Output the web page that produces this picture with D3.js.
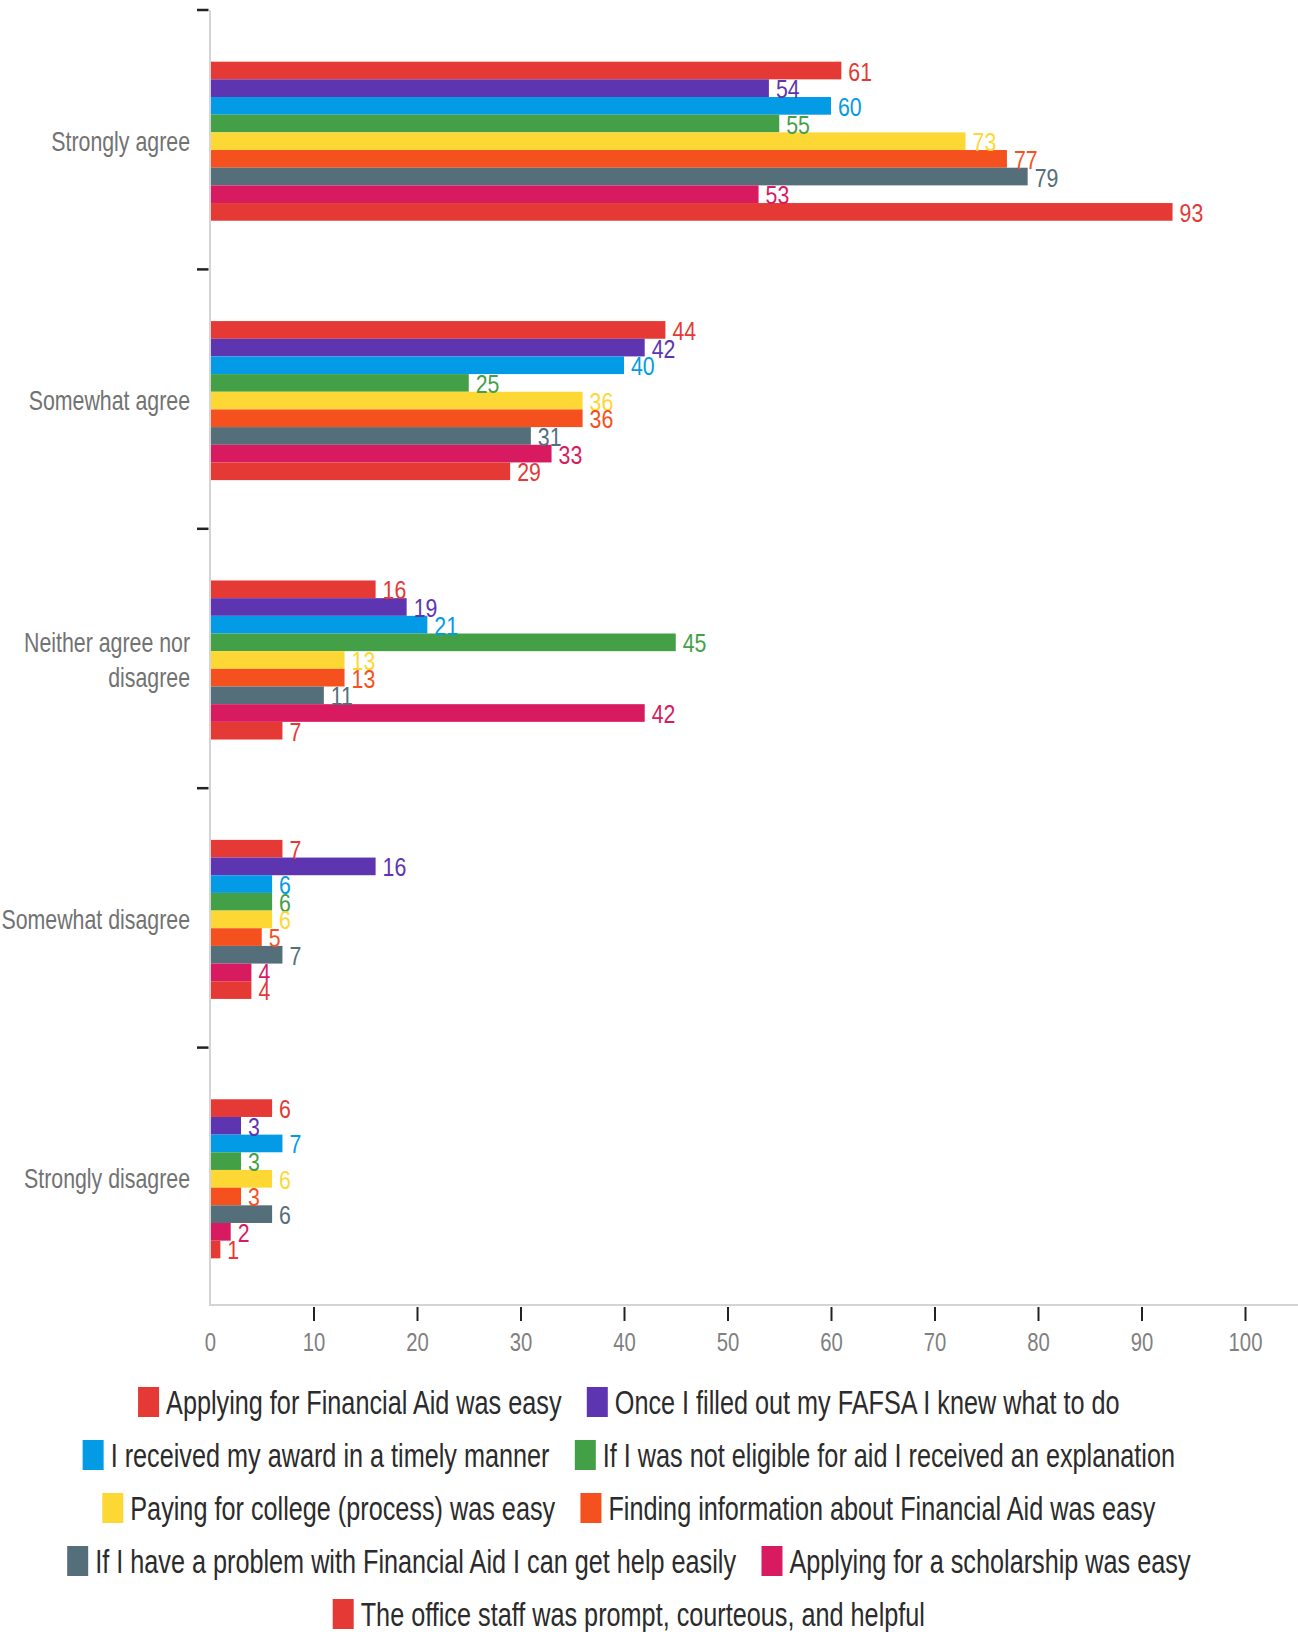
<!DOCTYPE html>
<html><head><meta charset="utf-8">
<script src="https://cdn.jsdelivr.net/npm/d3@7"></script>
<style>html,body{margin:0;padding:0;background:#fff;} svg{display:block;}</style>
</head><body>
<svg id="chart" width="1298" height="1632"></svg>
<script>
// ---------- DATA ----------
const categories = ["Strongly agree", "Somewhat agree", "Neither agree nor disagree", "Somewhat disagree", "Strongly disagree"];
const seriesNames = [
  "Applying for Financial Aid was easy",
  "Once I filled out my FAFSA I knew what to do",
  "I received my award in a timely manner",
  "If I was not eligible for aid I received an explanation",
  "Paying for college (process) was easy",
  "Finding information about Financial Aid was easy",
  "If I have a problem with Financial Aid I can get help easily",
  "Applying for a scholarship was easy",
  "The office staff was prompt, courteous, and helpful"
];
const seriesColors = ["#e53935", "#5e35b1", "#039be5", "#43a047", "#fdd835", "#f4511e", "#546e7a", "#d81b60", "#e53935"];
const applyingFinancialAid   = [61, 44, 16, 7, 6];
const onceFilledFafsa        = [54, 42, 19, 16, 3];
const receivedAwardTimely    = [60, 40, 21, 6, 7];
const notEligibleExplanation = [55, 25, 45, 6, 3];
const payingForCollege       = [73, 36, 13, 6, 6];
const findingInformation     = [77, 36, 13, 5, 3];
const problemGetHelp         = [79, 31, 11, 7, 6];
const applyingScholarship    = [53, 33, 42, 4, 2];
const officeStaff            = [93, 29, 7, 4, 1];
const xTickValues = [0, 10, 20, 30, 40, 50, 60, 70, 80, 90, 100];

const seriesValues = [applyingFinancialAid, onceFilledFafsa, receivedAwardTimely, notEligibleExplanation,
  payingForCollege, findingInformation, problemGetHelp, applyingScholarship, officeStaff];

// ---------- LAYOUT ----------
const FONT = "'Liberation Sans', Arial, sans-serif";
const W = 1298;
const svg = d3.select("#chart");

const x = d3.scaleLinear().domain([0, 100]).range([210, 1245]);
const y = d3.scaleBand().domain(categories).range([10, 1307]).paddingInner(0).paddingOuter(0);
const inner = d3.scaleBand().domain(d3.range(seriesNames.length))
  .range([1.5, y.bandwidth() + 1.5]).paddingInner(0).paddingOuter(2.84);
const axisY = 1305;

// bars
const barG = svg.append("g");
seriesValues.forEach((vals, si) => {
  barG.append("g").selectAll("rect").data(vals).join("rect")
    .attr("x", x(0))
    .attr("y", (v, ci) => y(categories[ci]) + inner(si))
    .attr("width", v => x(v) - x(0))
    .attr("height", inner.bandwidth())
    .attr("fill", seriesColors[si]);
});

// value labels
const labG = svg.append("g").style("font-family", FONT).attr("font-size", 26);
seriesValues.forEach((vals, si) => {
  labG.append("g").selectAll("text").data(vals).join("text")
    .attr("transform", (v, ci) => `translate(${x(v) + 7},${y(categories[ci]) + inner(si) + inner.bandwidth() / 2 + 10}) scale(0.82,1)`)
    .attr("fill", seriesColors[si])
    .text(v => v);
});

// y axis line
svg.append("line").attr("x1", x(0)).attr("x2", x(0)).attr("y1", y.range()[0]).attr("y2", axisY)
  .attr("stroke", "#d4d4d4").attr("stroke-width", 2);
// y ticks at band boundaries
svg.append("g").selectAll("line").data(categories).join("line")
  .attr("x1", x(0) - 13).attr("x2", x(0) - 1.5)
  .attr("y1", d => y(d)).attr("y2", d => y(d))
  .attr("stroke", "#222").attr("stroke-width", 2.5);

// category labels (wrapped)
const catG = svg.append("g").style("font-family", FONT).attr("font-size", 27).attr("fill", "#727272");
const catSX = 0.79, catMax = 200, catLine = 36;
categories.forEach(c => {
  const words = c.split(" ");
  const t = catG.append("text").attr("text-anchor", "end");
  const lines = []; let cur = [];
  words.forEach(w => {
    const test = cur.concat([w]).join(" ");
    t.text(test);
    if (cur.length && t.node().getComputedTextLength() * catSX > catMax) { lines.push(cur.join(" ")); cur = [w]; }
    else cur.push(w);
  });
  lines.push(cur.join(" "));
  t.text(null);
  const cy = y(c) + y.bandwidth() / 2;
  t.attr("transform", `translate(190,${cy + 11 - (lines.length - 1) * catLine / 2}) scale(${catSX},1)`);
  lines.forEach((ln, i) => t.append("tspan").attr("x", 0).attr("y", i * catLine).text(ln));
});

// x axis
svg.append("line").attr("x1", x(0) - 1).attr("x2", W).attr("y1", axisY).attr("y2", axisY)
  .attr("stroke", "#d4d4d4").attr("stroke-width", 2);
const xAxis = svg.append("g").attr("transform", `translate(0,${axisY + 2})`)
  .call(d3.axisBottom(x).tickValues(xTickValues).tickSize(14).tickSizeOuter(0));
xAxis.select(".domain").remove();
xAxis.selectAll(".tick line").attr("stroke", "#222").attr("stroke-width", 2)
  .filter(d => d === 0).remove();
xAxis.selectAll(".tick text")
  .attr("y", 0).attr("dy", null)
  .attr("transform", "translate(0,44) scale(0.78,1)")
  .attr("fill", "#808080").attr("font-size", 26).style("font-family", FONT);

// legend
const legFont = 33, legSX = 0.765, boxW = 21, boxH = 30, boxGap = 7, itemGap = 25;
const legMaxW = 1254, legCX = 629, legRow0 = 1402, legRowH = 53;
const meas = svg.append("text").attr("font-size", legFont).style("font-family", FONT);
const textW = seriesNames.map(n => { meas.text(n); return meas.node().getComputedTextLength() * legSX; });
meas.remove();
const rows = []; let curRow = [], curW = 0;
seriesNames.forEach((n, i) => {
  const w = boxW + boxGap + textW[i];
  const add = curRow.length ? itemGap + w : w;
  if (curRow.length && curW + add > legMaxW) { rows.push({ items: curRow, w: curW }); curRow = [i]; curW = w; }
  else { curRow.push(i); curW += add; }
});
rows.push({ items: curRow, w: curW });
const legG = svg.append("g").style("font-family", FONT).attr("font-size", legFont);
rows.forEach((r, ri) => {
  let cx = legCX - r.w / 2;
  const cy = legRow0 + ri * legRowH;
  r.items.forEach(i => {
    legG.append("rect").attr("x", cx).attr("y", cy - boxH / 2).attr("width", boxW).attr("height", boxH)
      .attr("fill", seriesColors[i]);
    legG.append("text").attr("transform", `translate(${cx + boxW + boxGap},${cy + 12}) scale(${legSX},1)`)
      .attr("fill", "#2b2b2b").text(seriesNames[i]);
    cx += boxW + boxGap + textW[i] + itemGap;
  });
});
</script>
</body></html>
